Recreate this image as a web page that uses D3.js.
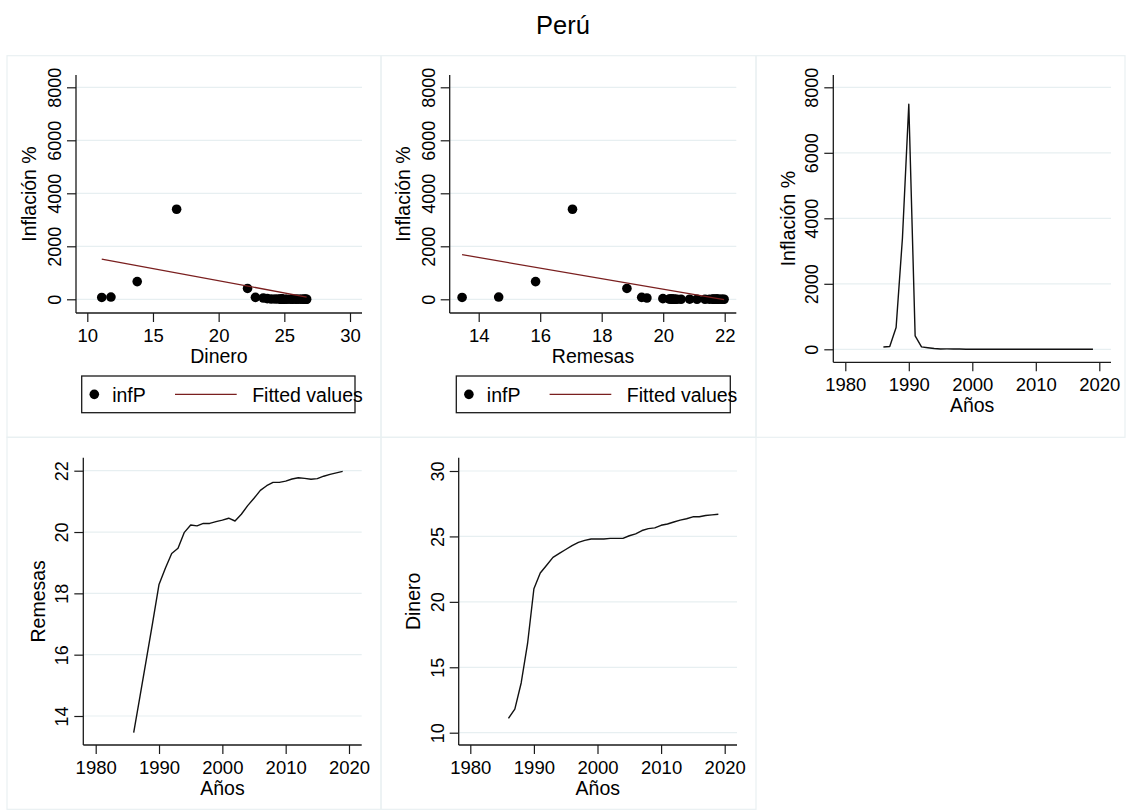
<!DOCTYPE html>
<html>
<head>
<meta charset="utf-8">
<script src="https://cdn.jsdelivr.net/npm/d3@7"></script>
<style>
  html, body { margin: 0; padding: 0; background: #fff; }
  svg { display: block; font-family: "Liberation Sans", Arial, sans-serif; }
</style>
</head>
<body>
<svg id="chart" width="1126" height="810"></svg>
<script>
// ---------------- DATA ----------------
const years = [1986,1987,1988,1989,1990,1991,1992,1993,1994,1995,1996,1997,1998,1999,2000,
               2001,2002,2003,2004,2005,2006,2007,2008,2009,2010,2011,2012,2013,2014,2015,
               2016,2017,2018,2019];
const inflacion = [70,86,667,3398,7482,409,73.5,48.6,23.7,11.1,11.5,8.5,7.3,3.5,3.8,
                   2.0,0.2,2.3,3.7,1.6,2.0,1.8,5.8,2.9,1.5,3.4,3.7,2.8,3.2,3.5,
                   3.6,2.8,1.3,2.1];
const remesas = [13.46,14.65,15.85,17.05,18.29,18.82,19.30,19.47,19.99,20.23,20.20,20.28,20.28,20.34,20.39,
                 20.45,20.36,20.58,20.86,21.10,21.36,21.51,21.62,21.62,21.66,21.73,21.77,21.75,21.72,21.74,
                 21.82,21.88,21.93,21.98];
const dinero = [11.1,11.8,13.8,16.8,21.0,22.2,22.8,23.4,23.7,24.0,24.3,24.55,24.7,24.8,24.8,
                24.8,24.85,24.85,24.85,25.05,25.2,25.45,25.6,25.65,25.85,25.95,26.1,26.25,26.35,26.5,
                26.5,26.6,26.65,26.7];
// year whose point is not shown in the scatter panels
const scatterOmitYears = [1990];
// fitted values (linear fit) end points [x, y]
const fitDinero = [[11.1, 1520], [26.7, 85]];
const fitRemesas = [[13.46, 1683], [21.98, -15]];
// tick labels
const inflTicks = [0, 2000, 4000, 6000, 8000];
const dineroTicks = [10, 15, 20, 25, 30];
const remesasTicks = [14, 16, 18, 20, 22];
const remesasLevelTicks = [14, 16, 18, 20, 22];
const dineroLevelTicks = [10, 15, 20, 25, 30];
const yearTicks = [1980, 1990, 2000, 2010, 2020];
const legendLabels = ["infP", "Fitted values"];
const titleText = "Perú";

// ---------------- DRAW ----------------
const svg = d3.select("#chart");
const AXIS = "#1a1a1a", GRID = "#e7eff1", FIT = "#7a1f1f", BORDER = "#e9f0f2";

svg.append("text").attr("x", 563).attr("y", 34).attr("text-anchor", "middle")
  .attr("font-size", 25.5).attr("fill", "#000").text(titleText);

// panel frames
const frames = [[7, 55.7, 374, 381.6], [381, 55.7, 375, 381.6], [756, 55.7, 369, 381.6],
                [7, 437.3, 374, 372], [381, 437.3, 375, 372]];
frames.forEach(f => svg.append("rect").attr("x", f[0]).attr("y", f[1]).attr("width", f[2])
  .attr("height", f[3]).attr("fill", "none").attr("stroke", BORDER).attr("stroke-width", 1.2));

function panel(cfg) {
  const g = svg.append("g");
  const x = d3.scaleLinear().domain(cfg.xDom).range(cfg.xRange);
  const y = d3.scaleLinear().domain(cfg.yDom).range(cfg.yRange);
  const [ax0, ax1] = cfg.axX;   // x extent of plot region
  const [ay0, ay1] = cfg.axY;   // y extent (top, bottom)

  // gridlines
  g.append("g").selectAll("line").data(cfg.yTicks).join("line")
    .attr("x1", ax0).attr("x2", ax1).attr("y1", d => y(d)).attr("y2", d => y(d))
    .attr("stroke", GRID).attr("stroke-width", 1.2);

  // y axis
  const yg = g.append("g").attr("transform", `translate(${ax0},0)`)
    .call(d3.axisLeft(y).tickValues(cfg.yTicks).tickSize(9).tickSizeOuter(0).tickFormat(d3.format("d")));
  yg.select(".domain").remove();
  yg.selectAll(".tick line").attr("stroke", AXIS).attr("stroke-width", 1.2);
  yg.selectAll(".tick text").attr("x", 0).attr("y", -21.5).attr("dy", "0.35em")
    .attr("transform", "rotate(-90)").attr("text-anchor", "middle")
    .attr("font-size", 18).attr("fill", "#000").attr("font-family", null);
  g.append("line").attr("x1", ax0).attr("x2", ax0).attr("y1", ay0).attr("y2", ay1)
    .attr("stroke", AXIS).attr("stroke-width", 1.3);

  // x axis
  const xg = g.append("g").attr("transform", `translate(0,${ay1})`)
    .call(d3.axisBottom(x).tickValues(cfg.xTicks).tickSize(9).tickSizeOuter(0).tickFormat(d3.format("d")));
  xg.select(".domain").remove();
  xg.selectAll(".tick line").attr("stroke", AXIS).attr("stroke-width", 1.2);
  xg.selectAll(".tick text").attr("y", 28.5).attr("dy", 0).attr("font-size", 18.5)
    .attr("fill", "#000").attr("font-family", null);
  g.append("line").attr("x1", ax0).attr("x2", ax1).attr("y1", ay1).attr("y2", ay1)
    .attr("stroke", AXIS).attr("stroke-width", 1.3);

  // titles
  g.append("text").attr("x", (ax0 + ax1) / 2).attr("y", ay1 + 50).attr("text-anchor", "middle")
    .attr("font-size", 19.5).attr("fill", "#000").text(cfg.xTitle);
  g.append("text").attr("transform", `translate(${ax0 - cfg.yTitleOff},${(ay0 + ay1) / 2}) rotate(-90)`)
    .attr("text-anchor", "middle").attr("dy", "0.35em")
    .attr("font-size", 19.5).attr("fill", "#000").text(cfg.yTitle);
  return { g, x, y };
}

function legend(g, lx, ly, w, h) {
  g.append("rect").attr("x", lx).attr("y", ly).attr("width", w).attr("height", h)
    .attr("fill", "none").attr("stroke", AXIS).attr("stroke-width", 1.3);
  const cy = ly + h / 2;
  g.append("circle").attr("cx", lx + 12.6).attr("cy", cy).attr("r", 4.8).attr("fill", "#000");
  g.append("text").attr("x", lx + 30.5).attr("y", cy + 7.3).attr("font-size", 19.5).text(legendLabels[0]);
  g.append("line").attr("x1", lx + 93.3).attr("x2", lx + 155).attr("y1", cy).attr("y2", cy)
    .attr("stroke", FIT).attr("stroke-width", 1.3);
  g.append("text").attr("x", lx + 170.5).attr("y", cy + 7.3).attr("font-size", 19.5).text(legendLabels[1]);
}

function scatterPanel(cfg, xs, fit) {
  const p = panel(cfg);
  const pts = years.map((yr, i) => ({ yr, xv: xs[i], yv: inflacion[i] }))
    .filter(d => !scatterOmitYears.includes(d.yr));
  p.g.append("g").selectAll("circle").data(pts).join("circle")
    .attr("cx", d => p.x(d.xv)).attr("cy", d => p.y(d.yv)).attr("r", 4.8).attr("fill", "#000");
  p.g.append("path").datum(fit)
    .attr("d", d3.line().x(d => p.x(d[0])).y(d => p.y(d[1])))
    .attr("fill", "none").attr("stroke", FIT).attr("stroke-width", 1.3);
  legend(p.g, cfg.leg[0], 376, cfg.leg[1], 36.7);
}

function linePanel(cfg, vals) {
  const p = panel(cfg);
  const data = years.map((yr, i) => [yr, vals[i]]);
  p.g.append("path").datum(data)
    .attr("d", d3.line().x(d => p.x(d[0])).y(d => p.y(d[1])))
    .attr("fill", "none").attr("stroke", "#111").attr("stroke-width", 1.4)
    .attr("stroke-linejoin", "round");
}

// Panel 1: inflation vs Dinero
scatterPanel({
  xDom: [10, 30], xRange: [87.3, 350], yDom: [0, 8000], yRange: [299.3, 87.3],
  axX: [76, 362], axY: [75, 313], xTicks: dineroTicks, yTicks: inflTicks,
  xTitle: "Dinero", yTitle: "Inflación %", yTitleOff: 47, leg: [81.7, 273.3]
}, dinero, fitDinero);

// Panel 2: inflation vs Remesas
scatterPanel({
  xDom: [14, 22], xRange: [478.7, 724.7], yDom: [0, 8000], yRange: [299.3, 87.3],
  axX: [449.7, 736.3], axY: [75, 313], xTicks: remesasTicks, yTicks: inflTicks,
  xTitle: "Remesas", yTitle: "Inflación %", yTitleOff: 47, leg: [456.3, 274]
}, remesas, fitRemesas);

// Panel 3: inflation over time
linePanel({
  xDom: [1980, 2020], xRange: [845.3, 1099.3], yDom: [0, 8000], yRange: [349.3, 87.3],
  axX: [833.3, 1111], axY: [75, 362.3], xTicks: yearTicks, yTicks: inflTicks,
  xTitle: "Años", yTitle: "Inflación %", yTitleOff: 45
}, inflacion);

// Panel 4: Remesas over time
linePanel({
  xDom: [1980, 2020], xRange: [95.7, 349], yDom: [14, 22], yRange: [716, 470.7],
  axX: [83.3, 361.7], axY: [457.7, 745], xTicks: yearTicks, yTicks: remesasLevelTicks,
  xTitle: "Años", yTitle: "Remesas", yTitleOff: 45
}, remesas);

// Panel 5: Dinero over time
linePanel({
  xDom: [1980, 2020], xRange: [470.3, 724.7], yDom: [10, 30], yRange: [732.7, 471],
  axX: [458.7, 737], axY: [457.7, 745], xTicks: yearTicks, yTicks: dineroLevelTicks,
  xTitle: "Años", yTitle: "Dinero", yTitleOff: 45.5
}, dinero);
</script>
</body>
</html>
